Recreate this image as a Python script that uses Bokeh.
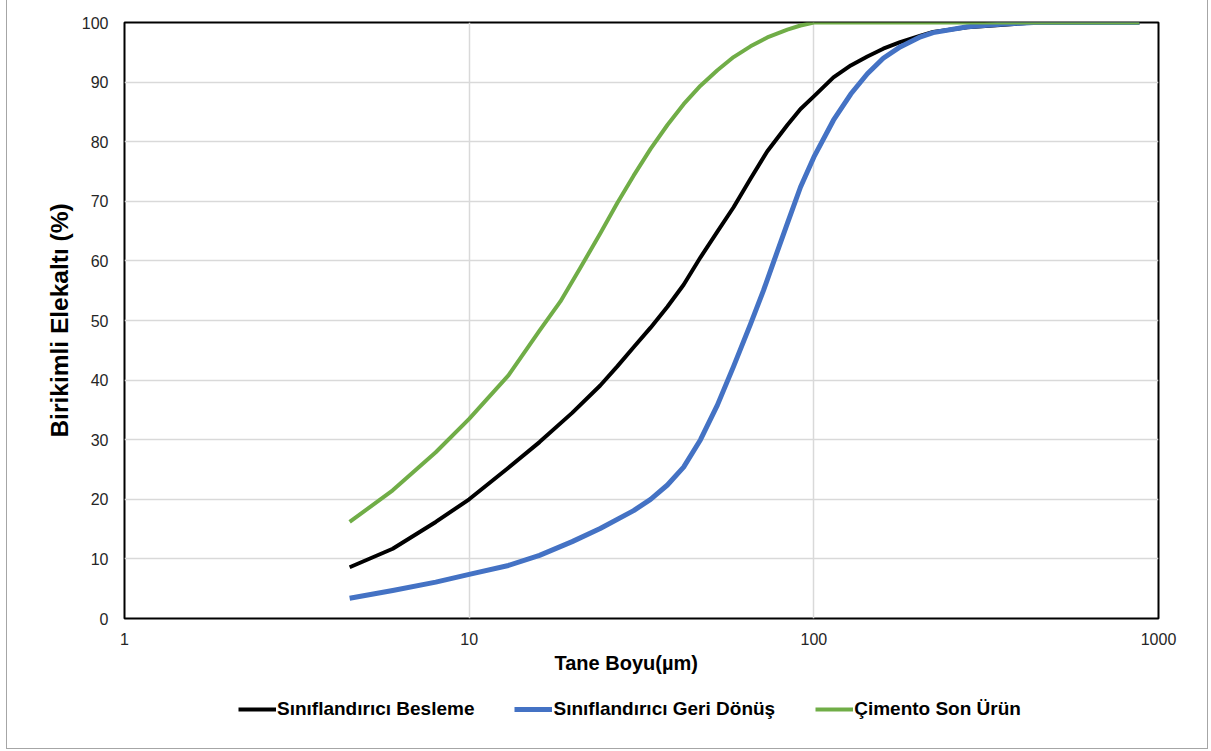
from bokeh.plotting import figure
from bokeh.layouts import column
from bokeh.models import (FixedTicker, PrintfTickFormatter, Legend, LegendItem,
                          Range1d, InlineStyleSheet, Title)
from bokeh.embed import file_html
from bokeh.resources import INLINE

# ---- data ----
besleme_x = [4.5, 6, 8, 10, 13, 16, 19.9, 24, 26.9, 30, 33.6, 37.6, 41.9, 46.9, 52.5,
             58.5, 65.5, 73.3, 83.8, 91.5, 100, 114, 128, 143, 159, 178, 204, 222,
             279, 348, 434, 880]
besleme_y = [8.6, 11.7, 16.2, 20, 25.3, 29.6, 34.5, 39.1, 42.3, 45.5, 48.8, 52.3, 56, 60.6, 64.9,
             69.0, 73.8, 78.4, 82.8, 85.5, 87.6, 90.8, 92.8, 94.3, 95.6, 96.7, 97.8, 98.4,
             99.2, 99.6, 100, 100]

geri_x = [4.5, 6, 8, 10, 13, 16, 19.9, 24, 30, 33.6, 37.6, 41.9, 46.9, 52.5, 58.5, 65.5,
          71.4, 76.4, 83.8, 91.5, 100, 114, 128, 143, 159, 178, 204, 222, 279, 348, 434, 880]
geri_y = [3.4, 4.7, 6.1, 7.4, 8.9, 10.6, 12.9, 15.1, 18.1, 20.0, 22.4, 25.4, 30, 35.8, 42.3, 49.4,
          55, 59.8, 66.3, 72.4, 77.4, 83.6, 88.0, 91.4, 94.0, 95.9, 97.6, 98.3, 99.3, 99.7, 100, 100]

cimento_x = [4.5, 6, 8, 10, 13, 16, 18.4, 21, 24, 26.9, 30, 33.6, 37.6, 41.9, 46.9, 52.5,
             58.5, 65.5, 73.3, 83.8, 91.5, 100, 880]
cimento_y = [16.2, 21.5, 27.9, 33.5, 40.8, 48.3, 53.2, 58.8, 64.6, 69.7, 74.3, 78.8, 82.8, 86.3,
             89.4, 92.0, 94.2, 96.0, 97.5, 98.8, 99.5, 100, 100]

series_names = ["Sınıflandırıcı Besleme", "Sınıflandırıcı Geri Dönüş", "Çimento Son Ürün"]
series_colors = ["#000000", "#4472C4", "#70AD47"]
series_widths = [4, 5, 4]

x_ticks = [1, 10, 100, 1000]
y_ticks = list(range(0, 101, 10))

x_title = "Tane Boyu(µm)"
y_title = "Birikimli Elekaltı (%)"

FONT = "Liberation Sans"

p = figure(width=1211, height=685, x_axis_type="log",
           x_range=Range1d(1, 1000), y_range=Range1d(0, 100),
           output_backend="svg", toolbar_location=None,
           min_border_left=124, min_border_right=53,
           min_border_top=22, min_border_bottom=67)

p.background_fill_color = "white"
p.border_fill_color = "white"
p.outline_line_color = "black"
p.outline_line_width = 2

# grids
p.xgrid.ticker = FixedTicker(ticks=x_ticks)
p.ygrid.ticker = FixedTicker(ticks=y_ticks)
p.xgrid.grid_line_color = "#d9d9d9"
p.ygrid.grid_line_color = "#d9d9d9"
p.xgrid.grid_line_width = 1.5
p.ygrid.grid_line_width = 1.5

# axes
for ax in (p.xaxis[0], p.yaxis[0]):
    ax.axis_line_color = None
    ax.major_tick_line_color = None
    ax.minor_tick_line_color = None
    ax.major_label_text_font = FONT
    ax.major_label_text_font_size = "16px"
    ax.major_label_text_color = "#262626"
    ax.axis_label_text_font = FONT
    ax.axis_label_text_font_style = "bold"
    ax.axis_label_text_color = "#000000"

p.xaxis.ticker = FixedTicker(ticks=x_ticks)
p.xaxis.formatter = PrintfTickFormatter(format="%d")
p.yaxis.ticker = FixedTicker(ticks=y_ticks)
p.yaxis.axis_label = y_title
p.yaxis.axis_label_text_font_size = "24.5px"
p.xaxis.major_label_standoff = 8
p.yaxis.major_label_standoff = 10
p.yaxis.axis_label_standoff = 6

# x-axis title, placed slightly left of the frame centre as in the reference
p.add_layout(Title(text=x_title, align="left", offset=430, standoff=4,
                   text_font=FONT, text_font_size="20px", text_font_style="bold",
                   text_color="#000000"), "below")

p.line(besleme_x, besleme_y, line_color=series_colors[0], line_width=series_widths[0],
       line_join="round")
p.line(geri_x, geri_y, line_color=series_colors[1], line_width=series_widths[1],
       line_join="round")
p.line(cimento_x, cimento_y, line_color=series_colors[2], line_width=series_widths[2],
       line_join="round")

# ---- legend strip below the chart (its lines fall outside this strip's ranges) ----
lg = figure(width=1211, height=66, output_backend="svg", toolbar_location=None,
            x_range=Range1d(0, 1), y_range=Range1d(-1, 0),
            min_border=0, x_axis_type=None, y_axis_type=None)
lg.grid.visible = False
lg.outline_line_color = None
lg.border_fill_color = "white"
lg.background_fill_color = "white"
items = []
for name, col, w, xs, ys in zip(series_names, series_colors, series_widths,
                                [besleme_x, geri_x, cimento_x],
                                [besleme_y, geri_y, cimento_y]):
    r = lg.line(xs, ys, line_color=col, line_width=w)
    items.append(LegendItem(label=name, renderers=[r]))

legend = Legend(items=items, location=(114, 31), orientation="horizontal",
                border_line_color=None, background_fill_alpha=0,
                padding=0, margin=0, spacing=40,
                glyph_width=38, glyph_height=22, label_standoff=1,
                label_text_font=FONT, label_text_font_style="bold",
                label_text_font_size="19px", label_text_color="#000000")
lg.add_layout(legend, "center")

layout = column(p, lg, spacing=0)

# outer chart border (drawn by CSS)
layout.stylesheets = [InlineStyleSheet(css="""
:host { position: relative; }
:host::after {
  content: "";
  position: absolute;
  left: 6px; right: 3px; top: -10px; bottom: 2px;
  border: 1px solid #a6a6a6;
  pointer-events: none;
  z-index: 10;
}
""")]

open("out.html", "w").write(file_html(layout, INLINE))
